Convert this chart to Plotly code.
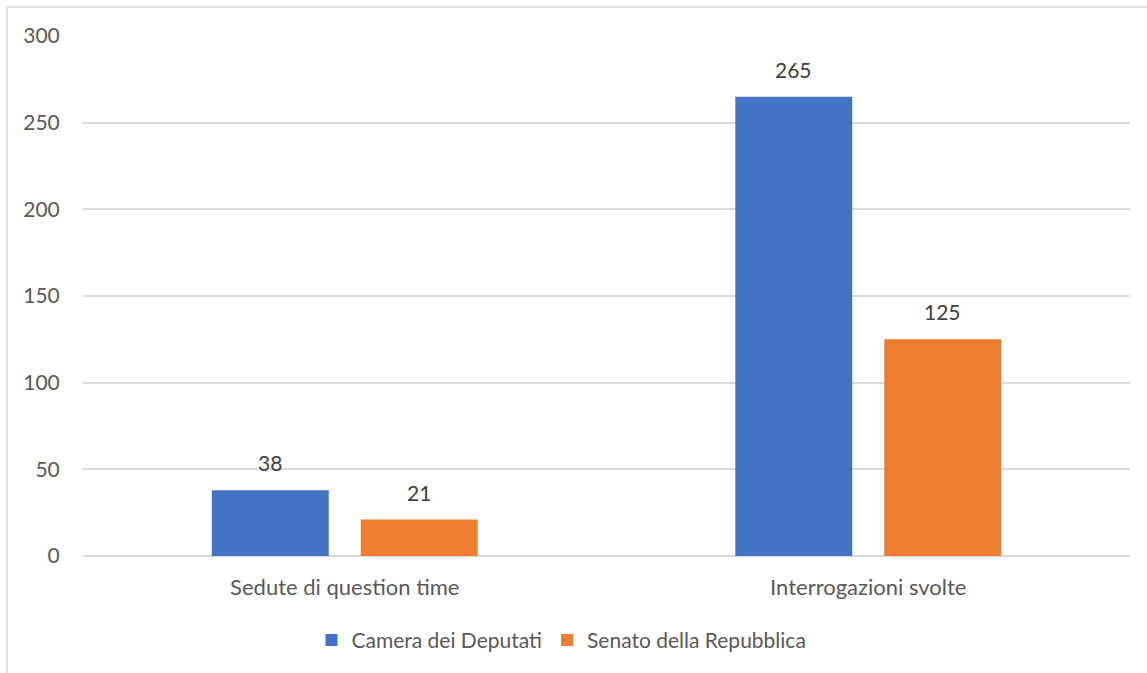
import plotly.graph_objects as go

categories = ["Sedute di question time", "Interrogazioni svolte"]
camera = [38, 265]
senato = [21, 125]
series_names = ["Camera dei Deputati", "Senato della Repubblica"]
colors = ["#4472C4", "#ED7D31"]
y_ticks = [0, 50, 100, 150, 200, 250, 300]

FONT = "Lato"
W, H = 1147, 673
L, R, T, B = 83, 17, 36, 117
BARGAP, BARGROUPGAP = 0.431, 0.215

fig = go.Figure()
for name, vals, col in zip(series_names, [camera, senato], colors):
    fig.add_trace(go.Bar(
        x=categories, y=vals, name=name, marker=dict(color=col, line=dict(width=0)),
        cliponaxis=False,
    ))

# data labels placed above bars (offset derived from the bar layout)
cat_px = (W - L - R) / len(categories)
slot_px = cat_px * (1 - BARGAP) / 2
annotations = []
for i, vals in enumerate([camera, senato]):
    shift = (i - 0.5) * slot_px
    for c, v in zip(categories, vals):
        annotations.append(dict(x=c, y=v, xref="x", yref="y", text=str(v), showarrow=False,
                                xshift=shift, yshift=13, yanchor="bottom",
                                font=dict(family=FONT, size=21, color="#404040")))

fig.update_layout(
    width=W, height=H,
    margin=dict(l=L, r=R, t=T, b=B, autoexpand=False),
    paper_bgcolor="white", plot_bgcolor="white",
    barmode="group", bargap=BARGAP, bargroupgap=BARGROUPGAP,
    font=dict(family=FONT, size=21, color="#595959"),
    showlegend=True,
    legend=dict(orientation="h", x=0.457, xanchor="center", y=-0.123, yanchor="top",
                font=dict(family=FONT, size=21, color="#595959"),
                itemsizing="constant", traceorder="normal"),
    annotations=annotations,
    shapes=[dict(type="rect", xref="paper", yref="paper",
                 x0=-76/1047, x1=1.2, y0=-0.4, y1=1 + 29/520,
                 line=dict(color="#D9D9D9", width=1.5), layer="below")],
)
fig.update_xaxes(showgrid=False, showline=False, zeroline=False, automargin=False,
                 ticks="outside", ticklen=12, tickcolor="rgba(0,0,0,0)",
                 tickfont=dict(family=FONT, size=22, color="#595959"))
fig.update_yaxes(range=[0, 300], tickvals=y_ticks, showgrid=True, gridcolor="#D9D9D9",
                 gridwidth=1.5, zeroline=True, zerolinecolor="#D9D9D9", zerolinewidth=1.5,
                 showline=False, automargin=False, ticks="outside", ticklen=18,
                 tickcolor="rgba(0,0,0,0)",
                 tickfont=dict(family=FONT, size=21, color="#595959"))
fig.write_html("out.html")
